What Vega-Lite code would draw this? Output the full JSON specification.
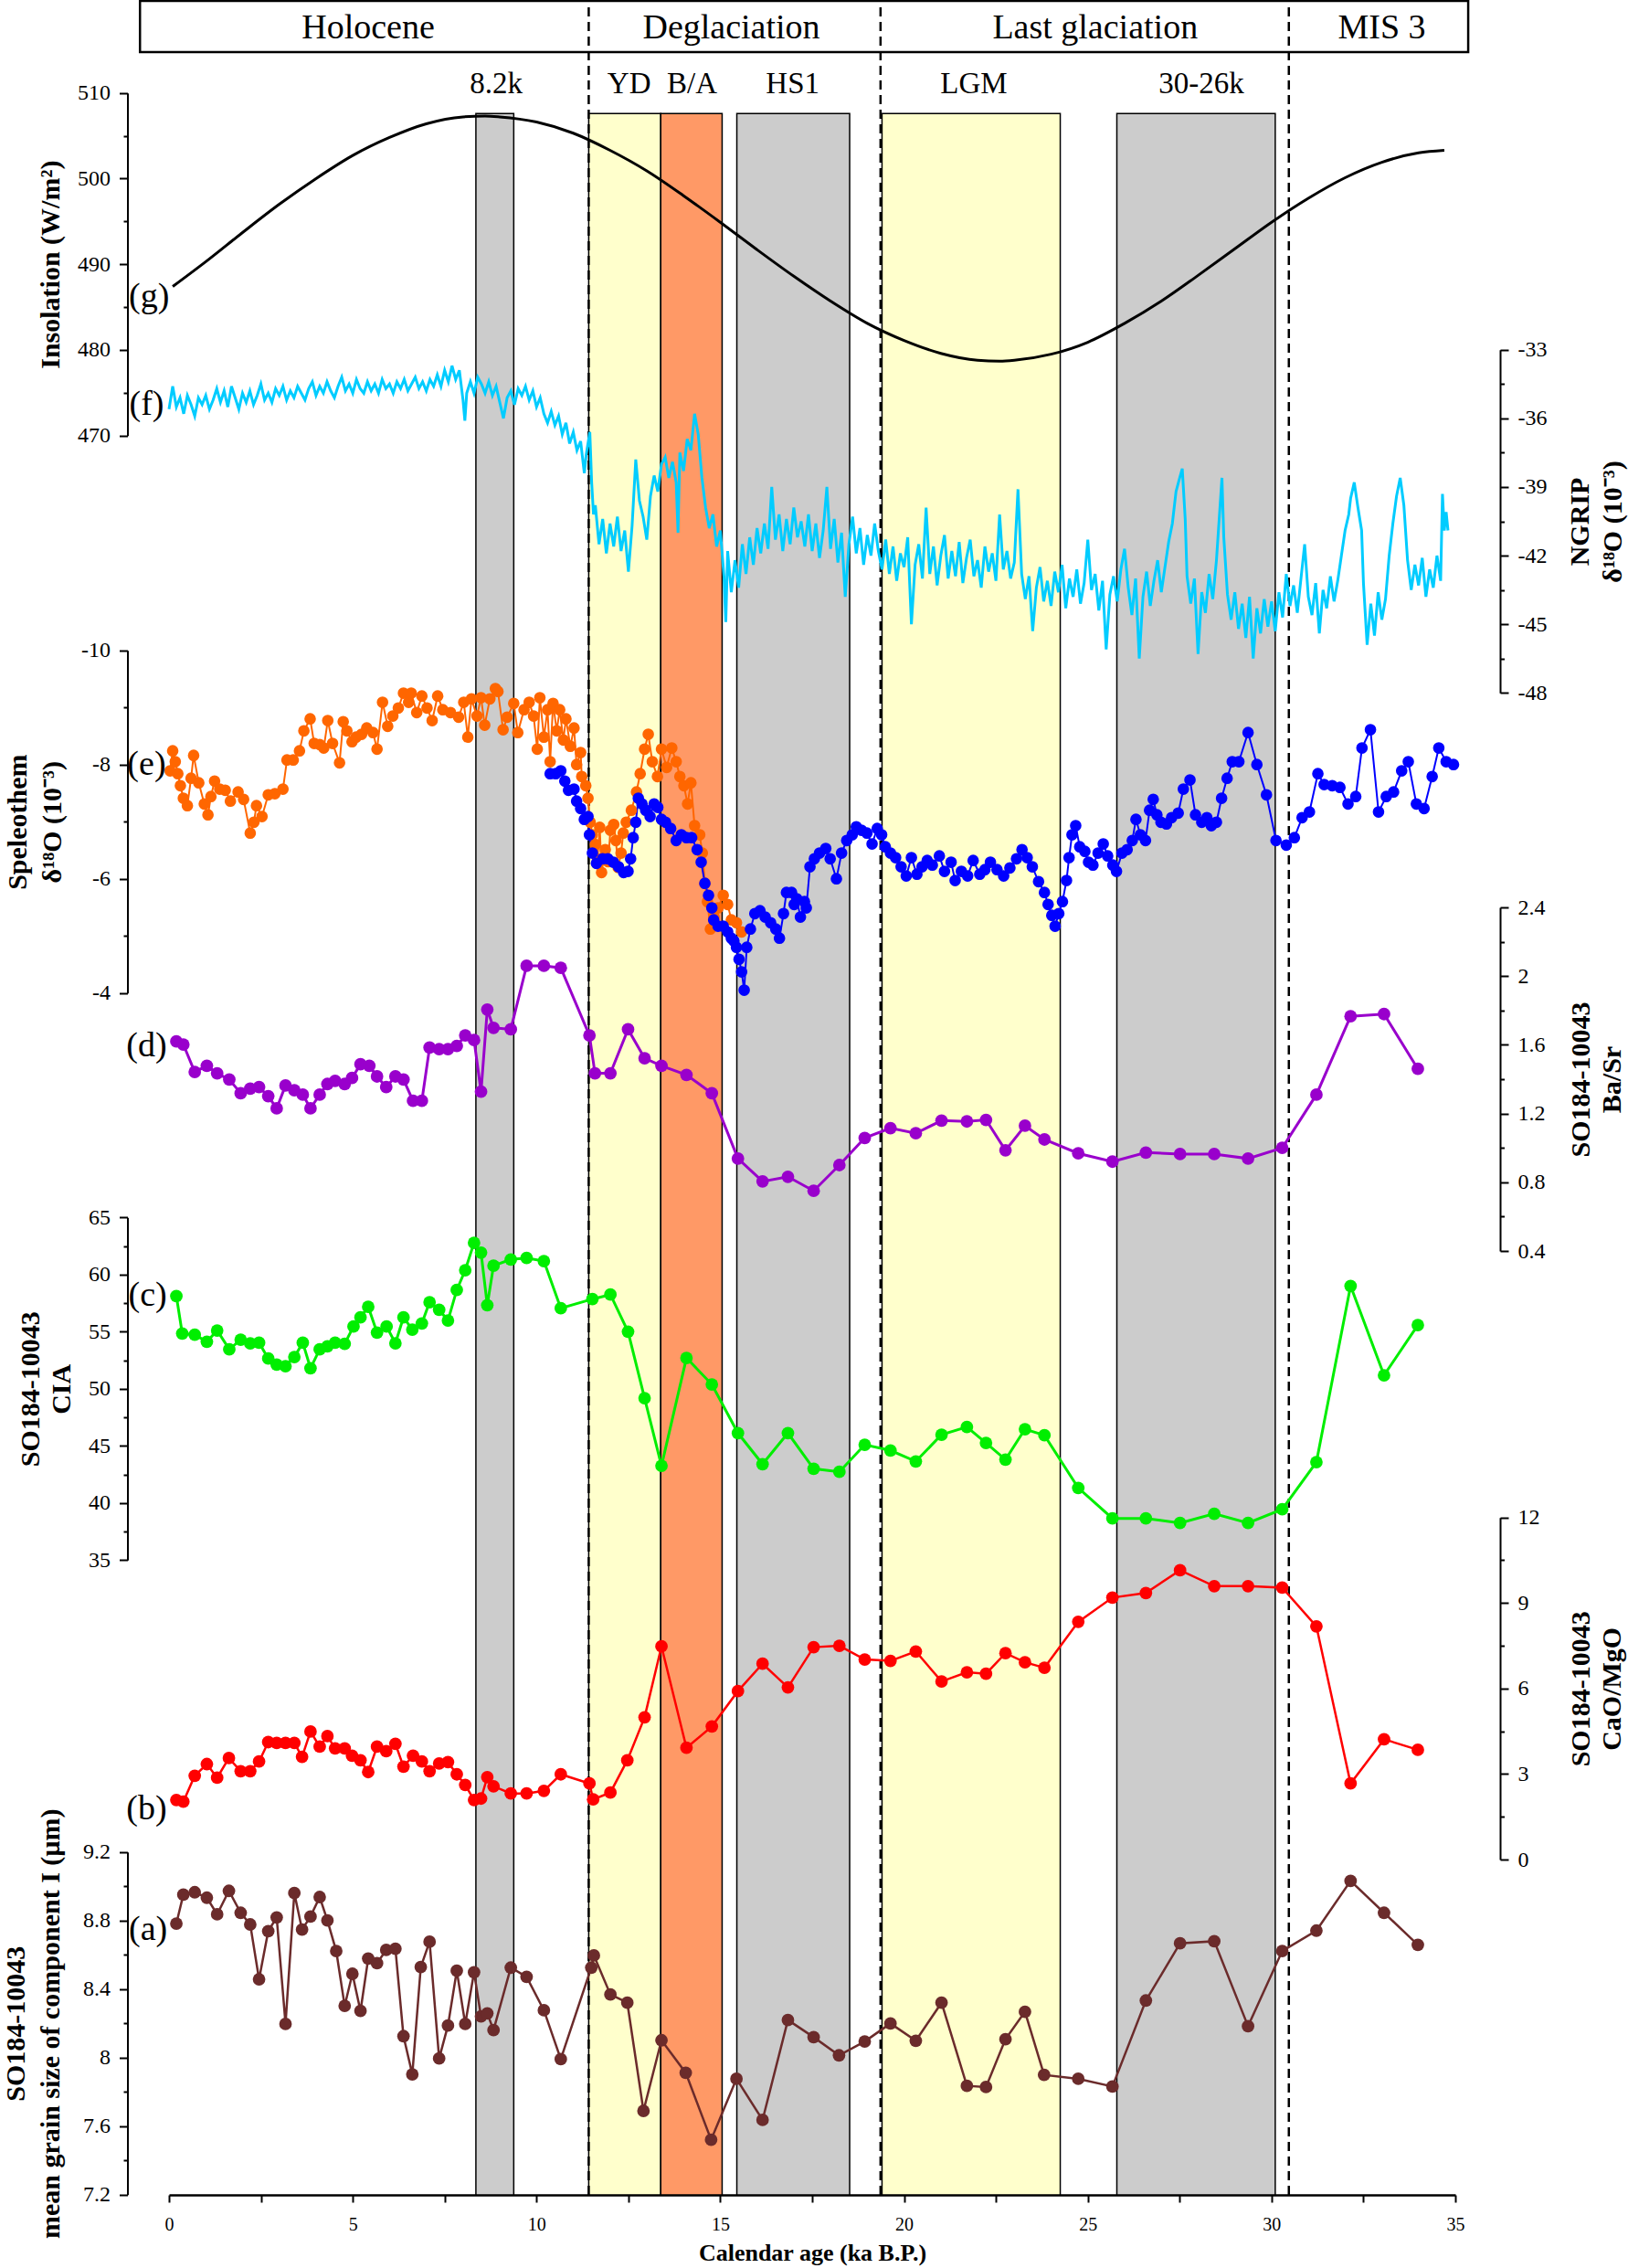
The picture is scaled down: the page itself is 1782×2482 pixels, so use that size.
{
"$schema":"https://vega.github.io/schema/vega-lite/v6.json",
"width":1408,"height":2402,
"autosize":{"type":"none"},
"padding":{"left":185,"top":0,"right":189,"bottom":80},
"background":"white",
"config":{"view":{"stroke":null},"font":"Liberation Serif",
 "axis":{"grid":false,"zindex":1,"domainColor":"black","domainWidth":2,"tickColor":"black","tickWidth":2,"labelColor":"black","labelFont":"Liberation Serif","labelFontSize":24,"titleFont":"Liberation Serif","titleFontSize":30,"titleFontWeight":"bold","titleColor":"black","labelOverlap":false,"labelFlush":false}},
"encoding":{"x":{"field":"t","type":"quantitative","scale":{"domain":[0,35],"nice":false,"zero":false},
 "axis":{"orient":"bottom","values":[0,2.5,5,7.5,10,12.5,15,17.5,20,22.5,25,27.5,30,32.5,35],"tickSize":8,"domainWidth":2.5,"labelExpr":"datum.value % 5 === 0 ? datum.label : ''","labelFontSize":20,"labelPadding":14,"title":"Calendar age (ka B.P.)","titleFontSize":26,"titlePadding":8}}},
"layer":[
{"layer":[
 {"data":{"values":[{"name":"8.2k","t":8.35,"t2":9.38,"kind":"cold"},{"name":"YD","t":11.42,"t2":13.38,"kind":"cool"},{"name":"B/A","t":13.38,"t2":15.05,"kind":"warm"},{"name":"HS1","t":15.45,"t2":18.52,"kind":"cold"},{"name":"LGM","t":19.4,"t2":24.25,"kind":"cool"},{"name":"30-26k","t":25.79,"t2":30.1,"kind":"cold"}]},
  "mark":{"type":"rect","stroke":"black","strokeWidth":1.5},
  "encoding":{"x2":{"field":"t2"},"y":{"datum":0,"type":"quantitative","scale":{"domain":[0,1],"nice":false,"zero":false},"axis":null},"y2":{"datum":0.9483},
   "fill":{"field":"kind","type":"nominal","scale":{"domain":["cold","cool","warm"],"range":["#CCCCCC","#FFFFCC","#FF9966"]},"legend":null}}},
 {"data":{"values":[{"t":11.42},{"t":19.36},{"t":30.47}]},
  "mark":{"type":"rule","color":"black","strokeWidth":2.5,"strokeDash":[10,6]},
  "encoding":{"y":{"datum":0,"type":"quantitative","scale":{"domain":[0,1],"nice":false,"zero":false},"axis":null},"y2":{"datum":0.9996}}},
 {"data":{"values":[{"t":-0.79,"t2":35.35}]},
  "mark":{"type":"rect","fillOpacity":0,"stroke":"black","strokeWidth":2.5},
  "encoding":{"x2":{"field":"t2"},"y":{"datum":0.9763,"type":"quantitative","scale":{"domain":[0,1],"nice":false,"zero":false},"axis":null},"y2":{"datum":0.9996}}},
 {"data":{"values":[{"label":"Holocene","t":5.42},{"label":"Deglaciation","t":15.3},{"label":"Last glaciation","t":25.2},{"label":"MIS 3","t":33.0}]},
  "mark":{"type":"text","fontSize":38,"align":"center","baseline":"alphabetic","color":"black"},
  "encoding":{"y":{"datum":0.9824,"type":"quantitative","scale":{"domain":[0,1],"nice":false,"zero":false},"axis":null},"text":{"field":"label"}}},
 {"data":{"values":[{"label":"8.2k","t":8.9},{"label":"YD","t":12.52},{"label":"B/A","t":14.23},{"label":"HS1","t":16.97},{"label":"LGM","t":21.9},{"label":"30-26k","t":28.09}]},
  "mark":{"type":"text","fontSize":33,"align":"center","baseline":"alphabetic","color":"black"},
  "encoding":{"y":{"datum":0.9577,"type":"quantitative","scale":{"domain":[0,1],"nice":false,"zero":false},"axis":null},"text":{"field":"label"}}}
]},
{"layer":[
 {"data":{"values":[{"t":0.1,"v":487.4},{"t":1,"v":490.3},{"t":2,"v":493.7},{"t":3,"v":497.0},{"t":4,"v":500.0},{"t":5,"v":502.7},{"t":6,"v":504.8},{"t":7,"v":506.4},{"t":8,"v":507.2},{"t":8.6,"v":507.3},{"t":9,"v":507.2},{"t":10,"v":506.6},{"t":11,"v":505.3},{"t":12,"v":503.3},{"t":13,"v":500.9},{"t":14,"v":498.0},{"t":15,"v":494.9},{"t":16,"v":491.7},{"t":17,"v":488.6},{"t":18,"v":485.7},{"t":19,"v":483.1},{"t":20,"v":481.1},{"t":21,"v":479.6},{"t":22,"v":478.8},{"t":22.6,"v":478.7},{"t":23,"v":478.8},{"t":24,"v":479.5},{"t":25,"v":480.9},{"t":26,"v":483.1},{"t":27,"v":485.7},{"t":28,"v":488.7},{"t":29,"v":491.8},{"t":30,"v":494.9},{"t":31,"v":497.7},{"t":32,"v":500.1},{"t":33,"v":501.9},{"t":34,"v":503.0},{"t":34.7,"v":503.3}]},
  "mark":{"type":"line","color":"black","strokeWidth":3,"interpolate":"monotone"},
  "encoding":{"y":{"field":"v","type":"quantitative","scale":{"domain":[470,510],"range":[476.7,101.7],"nice":false,"zero":false},
   "axis":{"orient":"left","offset":45.5,"values":[470,480,490,500,510],"tickSize":9,"labelExpr":"'' + datum.value","labelPadding":10,"title":"Insolation (W/m²)","titlePadding":14}}}},
 {"data":{"values":[{"t":-0.54,"v":486.2,"lab":"(g)"}]},
  "mark":{"type":"text","fontSize":38,"align":"center","baseline":"middle","color":"black"},
  "encoding":{"y":{"field":"v","type":"quantitative","scale":{"domain":[470,510],"range":[476.7,101.7],"nice":false,"zero":false},
   "axis":{"orient":"left","offset":45.5,"values":[475,485,495,505],"tickSize":4.5,"domain":false,"labels":false,"title":null}},"text":{"field":"lab"}}}
],"resolve":{"axis":{"y":"independent"}}},
{"layer":[
 {"data":{"values":[
{"t":0.0,"v":-35.6},{"t":0.1,"v":-34.6},{"t":0.2,"v":-35.5},{"t":0.3,"v":-35.1},{"t":0.4,"v":-35.8},{"t":0.5,"v":-35.0},{"t":0.6,"v":-35.4},{"t":0.7,"v":-35.9},{"t":0.8,"v":-35.1},{"t":0.9,"v":-35.4},
{"t":1.0,"v":-35.0},{"t":1.1,"v":-35.6},{"t":1.2,"v":-35.2},{"t":1.3,"v":-34.7},{"t":1.4,"v":-35.3},{"t":1.5,"v":-34.8},{"t":1.6,"v":-35.5},{"t":1.7,"v":-34.6},{"t":1.8,"v":-35.1},{"t":1.9,"v":-35.6},
{"t":2.0,"v":-34.9},{"t":2.1,"v":-35.3},{"t":2.2,"v":-34.8},{"t":2.3,"v":-35.4},{"t":2.4,"v":-35.0},{"t":2.5,"v":-34.5},{"t":2.6,"v":-35.2},{"t":2.7,"v":-34.9},{"t":2.8,"v":-35.3},{"t":2.9,"v":-34.7},
{"t":3.0,"v":-35.0},{"t":3.1,"v":-34.6},{"t":3.2,"v":-35.2},{"t":3.3,"v":-34.8},{"t":3.4,"v":-35.1},{"t":3.5,"v":-34.6},{"t":3.6,"v":-34.9},{"t":3.7,"v":-35.2},{"t":3.8,"v":-34.7},{"t":3.9,"v":-34.4},
{"t":4.0,"v":-35.0},{"t":4.1,"v":-34.6},{"t":4.2,"v":-34.9},{"t":4.3,"v":-34.4},{"t":4.4,"v":-34.8},{"t":4.5,"v":-35.1},{"t":4.6,"v":-34.6},{"t":4.7,"v":-34.2},{"t":4.8,"v":-34.8},{"t":4.9,"v":-34.5},
{"t":5.0,"v":-34.9},{"t":5.1,"v":-34.3},{"t":5.2,"v":-34.7},{"t":5.3,"v":-34.9},{"t":5.4,"v":-34.4},{"t":5.5,"v":-34.8},{"t":5.6,"v":-34.5},{"t":5.7,"v":-34.9},{"t":5.8,"v":-34.3},{"t":5.9,"v":-34.7},
{"t":6.0,"v":-34.5},{"t":6.1,"v":-34.9},{"t":6.2,"v":-34.4},{"t":6.3,"v":-34.7},{"t":6.4,"v":-34.3},{"t":6.5,"v":-34.8},{"t":6.6,"v":-34.5},{"t":6.7,"v":-34.2},{"t":6.8,"v":-34.7},{"t":6.9,"v":-34.4},
{"t":7.0,"v":-34.8},{"t":7.1,"v":-34.3},{"t":7.2,"v":-34.6},{"t":7.3,"v":-34.1},{"t":7.4,"v":-34.6},{"t":7.5,"v":-33.9},{"t":7.6,"v":-34.4},{"t":7.7,"v":-33.7},{"t":7.8,"v":-34.3},{"t":7.9,"v":-33.9},
{"t":8.0,"v":-35.2},{"t":8.05,"v":-36.1},{"t":8.1,"v":-34.9},{"t":8.2,"v":-34.4},{"t":8.3,"v":-34.9},{"t":8.4,"v":-34.2},{"t":8.5,"v":-34.5},{"t":8.6,"v":-34.9},{"t":8.7,"v":-34.4},{"t":8.8,"v":-35.0},{"t":8.9,"v":-34.6},
{"t":9.0,"v":-35.3},{"t":9.1,"v":-36.0},{"t":9.2,"v":-35.1},{"t":9.3,"v":-34.8},{"t":9.4,"v":-35.4},{"t":9.5,"v":-34.7},{"t":9.6,"v":-35.0},{"t":9.7,"v":-34.6},{"t":9.8,"v":-35.2},{"t":9.9,"v":-34.8},
{"t":10.0,"v":-35.5},{"t":10.1,"v":-35.1},{"t":10.2,"v":-35.8},{"t":10.3,"v":-36.2},{"t":10.4,"v":-35.7},{"t":10.5,"v":-36.3},{"t":10.6,"v":-35.9},{"t":10.7,"v":-36.7},{"t":10.8,"v":-36.2},{"t":10.9,"v":-37.1},
{"t":11.0,"v":-36.6},{"t":11.1,"v":-37.4},{"t":11.2,"v":-37.0},{"t":11.3,"v":-38.4},{"t":11.35,"v":-37.6},{"t":11.45,"v":-36.6},{"t":11.5,"v":-38.8},{"t":11.55,"v":-40.2},{"t":11.6,"v":-39.8},{"t":11.7,"v":-41.5},{"t":11.8,"v":-40.4},{"t":11.9,"v":-41.9},
{"t":12.0,"v":-40.6},{"t":12.1,"v":-41.6},{"t":12.2,"v":-40.3},{"t":12.3,"v":-41.8},{"t":12.4,"v":-40.9},{"t":12.5,"v":-42.7},{"t":12.6,"v":-40.7},{"t":12.7,"v":-37.8},{"t":12.8,"v":-39.6},{"t":12.9,"v":-40.3},
{"t":13.0,"v":-41.3},{"t":13.1,"v":-39.4},{"t":13.2,"v":-38.5},{"t":13.3,"v":-39.2},{"t":13.4,"v":-38.0},{"t":13.5,"v":-37.7},{"t":13.6,"v":-38.6},{"t":13.7,"v":-37.9},{"t":13.8,"v":-38.8},{"t":13.85,"v":-41.0},{"t":13.9,"v":-37.5},
{"t":14.0,"v":-38.3},{"t":14.1,"v":-36.9},{"t":14.2,"v":-37.4},{"t":14.3,"v":-35.8},{"t":14.4,"v":-36.7},{"t":14.5,"v":-38.6},{"t":14.6,"v":-39.9},{"t":14.7,"v":-40.8},{"t":14.8,"v":-40.2},{"t":14.9,"v":-41.6},
{"t":15.0,"v":-40.9},{"t":15.1,"v":-42.9},{"t":15.15,"v":-44.9},{"t":15.2,"v":-41.8},{"t":15.3,"v":-43.6},{"t":15.4,"v":-42.2},{"t":15.5,"v":-43.4},{"t":15.6,"v":-41.5},{"t":15.7,"v":-42.8},{"t":15.8,"v":-41.2},{"t":15.9,"v":-42.4},
{"t":16.0,"v":-40.8},{"t":16.1,"v":-41.9},{"t":16.2,"v":-40.6},{"t":16.3,"v":-41.7},{"t":16.4,"v":-39.0},{"t":16.5,"v":-41.3},{"t":16.6,"v":-40.2},{"t":16.7,"v":-41.8},{"t":16.8,"v":-40.4},{"t":16.9,"v":-41.5},
{"t":17.0,"v":-39.9},{"t":17.1,"v":-41.2},{"t":17.2,"v":-40.5},{"t":17.3,"v":-41.6},{"t":17.4,"v":-40.2},{"t":17.5,"v":-41.8},{"t":17.6,"v":-40.6},{"t":17.7,"v":-42.1},{"t":17.8,"v":-40.9},{"t":17.9,"v":-39.0},
{"t":18.0,"v":-41.7},{"t":18.1,"v":-40.4},{"t":18.2,"v":-42.3},{"t":18.3,"v":-41.0},{"t":18.4,"v":-43.8},{"t":18.5,"v":-41.5},{"t":18.6,"v":-40.3},{"t":18.7,"v":-41.9},{"t":18.8,"v":-40.8},{"t":18.9,"v":-42.4},
{"t":19.0,"v":-41.1},{"t":19.1,"v":-42.0},{"t":19.2,"v":-40.6},{"t":19.3,"v":-41.8},{"t":19.4,"v":-42.6},{"t":19.5,"v":-41.3},{"t":19.6,"v":-42.8},{"t":19.7,"v":-41.6},{"t":19.8,"v":-43.1},{"t":19.9,"v":-41.9},
{"t":20.0,"v":-42.5},{"t":20.1,"v":-41.2},{"t":20.2,"v":-45.0},{"t":20.3,"v":-42.4},{"t":20.4,"v":-41.5},{"t":20.5,"v":-43.0},{"t":20.6,"v":-39.9},{"t":20.7,"v":-42.8},{"t":20.8,"v":-41.6},{"t":20.9,"v":-43.3},
{"t":21.0,"v":-42.0},{"t":21.1,"v":-41.1},{"t":21.2,"v":-43.0},{"t":21.3,"v":-41.8},{"t":21.4,"v":-42.9},{"t":21.5,"v":-41.4},{"t":21.6,"v":-43.2},{"t":21.7,"v":-42.1},{"t":21.8,"v":-41.3},{"t":21.9,"v":-42.9},
{"t":22.0,"v":-42.2},{"t":22.1,"v":-43.4},{"t":22.2,"v":-41.6},{"t":22.3,"v":-42.7},{"t":22.4,"v":-41.9},{"t":22.5,"v":-43.1},{"t":22.6,"v":-40.2},{"t":22.7,"v":-42.6},{"t":22.8,"v":-41.8},{"t":22.9,"v":-43.0},
{"t":23.0,"v":-42.3},{"t":23.1,"v":-39.1},{"t":23.2,"v":-42.8},{"t":23.3,"v":-43.9},{"t":23.4,"v":-42.9},{"t":23.5,"v":-45.3},{"t":23.6,"v":-43.4},{"t":23.7,"v":-42.5},{"t":23.8,"v":-44.0},{"t":23.9,"v":-43.1},
{"t":24.0,"v":-44.2},{"t":24.1,"v":-42.7},{"t":24.2,"v":-43.6},{"t":24.3,"v":-42.4},{"t":24.4,"v":-44.3},{"t":24.5,"v":-43.0},{"t":24.6,"v":-43.8},{"t":24.7,"v":-42.6},{"t":24.8,"v":-44.1},{"t":24.9,"v":-43.2},
{"t":25.0,"v":-41.3},{"t":25.1,"v":-43.5},{"t":25.2,"v":-42.8},{"t":25.3,"v":-44.4},{"t":25.4,"v":-43.1},{"t":25.5,"v":-46.1},{"t":25.6,"v":-43.7},{"t":25.7,"v":-42.9},{"t":25.8,"v":-44.0},{"t":25.9,"v":-42.6},
{"t":26.0,"v":-41.7},{"t":26.1,"v":-43.4},{"t":26.2,"v":-44.6},{"t":26.3,"v":-43.0},{"t":26.4,"v":-46.5},{"t":26.5,"v":-43.8},{"t":26.6,"v":-42.7},{"t":26.7,"v":-44.2},{"t":26.8,"v":-43.1},{"t":26.9,"v":-42.2},
{"t":27.0,"v":-43.6},{"t":27.1,"v":-42.5},{"t":27.2,"v":-41.4},{"t":27.3,"v":-40.6},{"t":27.4,"v":-39.2},{"t":27.5,"v":-38.6},{"t":27.57,"v":-38.2},{"t":27.65,"v":-40.4},{"t":27.7,"v":-42.9},{"t":27.8,"v":-44.1},{"t":27.9,"v":-43.0},
{"t":28.0,"v":-46.3},{"t":28.1,"v":-43.6},{"t":28.2,"v":-44.5},{"t":28.3,"v":-42.8},{"t":28.4,"v":-43.9},{"t":28.5,"v":-42.2},{"t":28.6,"v":-39.8},{"t":28.65,"v":-38.6},{"t":28.7,"v":-41.2},{"t":28.8,"v":-43.7},{"t":28.9,"v":-44.8},
{"t":29.0,"v":-43.6},{"t":29.1,"v":-45.2},{"t":29.2,"v":-44.1},{"t":29.3,"v":-45.6},{"t":29.4,"v":-43.8},{"t":29.5,"v":-46.5},{"t":29.6,"v":-44.3},{"t":29.7,"v":-45.4},{"t":29.8,"v":-43.9},{"t":29.9,"v":-45.1},
{"t":30.0,"v":-44.0},{"t":30.1,"v":-45.3},{"t":30.2,"v":-43.6},{"t":30.3,"v":-44.7},{"t":30.4,"v":-42.8},{"t":30.5,"v":-44.2},{"t":30.6,"v":-43.3},{"t":30.7,"v":-44.5},{"t":30.8,"v":-43.0},{"t":30.9,"v":-41.5},
{"t":31.0,"v":-43.8},{"t":31.1,"v":-44.6},{"t":31.2,"v":-43.2},{"t":31.3,"v":-45.4},{"t":31.4,"v":-43.5},{"t":31.5,"v":-44.3},{"t":31.6,"v":-42.9},{"t":31.7,"v":-44.0},{"t":31.8,"v":-43.1},{"t":31.9,"v":-42.0},
{"t":32.0,"v":-40.9},{"t":32.1,"v":-40.2},{"t":32.15,"v":-39.5},{"t":32.25,"v":-38.8},{"t":32.35,"v":-39.9},{"t":32.45,"v":-40.9},{"t":32.5,"v":-43.2},{"t":32.6,"v":-45.9},{"t":32.7,"v":-44.1},{"t":32.8,"v":-45.5},{"t":32.9,"v":-43.6},
{"t":33.0,"v":-44.8},{"t":33.1,"v":-43.9},{"t":33.2,"v":-42.0},{"t":33.3,"v":-40.6},{"t":33.4,"v":-39.4},{"t":33.5,"v":-38.6},{"t":33.6,"v":-39.8},{"t":33.7,"v":-42.2},{"t":33.8,"v":-43.5},{"t":33.9,"v":-42.4},
{"t":34.0,"v":-43.3},{"t":34.1,"v":-42.1},{"t":34.2,"v":-43.8},{"t":34.3,"v":-42.6},{"t":34.4,"v":-43.4},{"t":34.5,"v":-42.0},{"t":34.6,"v":-43.1},{"t":34.65,"v":-39.3},{"t":34.7,"v":-40.9},{"t":34.75,"v":-40.1},{"t":34.8,"v":-40.9}]},
  "mark":{"type":"line","color":"#00CCFF","strokeWidth":3},
  "encoding":{"y":{"field":"v","type":"quantitative","scale":{"domain":[-48,-33],"range":[758.3,382.7],"nice":false,"zero":false},
   "axis":{"orient":"right","offset":49,"values":[-48,-45,-42,-39,-36,-33],"tickSize":9,"labelExpr":"'' + datum.value","labelPadding":10,"title":["NGRIP","δ¹⁸O (10⁻³)"],"titleAngle":-90,"titleBaseline":"top","titlePadding":-14,"titleLineHeight":36}}}},
 {"data":{"values":[{"t":-0.61,"v":-35.42,"lab":"(f)"}]},
  "mark":{"type":"text","fontSize":38,"align":"center","baseline":"middle","color":"black"},
  "encoding":{"y":{"field":"v","type":"quantitative","scale":{"domain":[-48,-33],"range":[758.3,382.7],"nice":false,"zero":false},
   "axis":{"orient":"right","offset":49,"values":[-46.5,-43.5,-40.5,-37.5,-34.5],"tickSize":4.5,"domain":false,"labels":false,"title":null}},"text":{"field":"lab"}}}
],"resolve":{"axis":{"y":"independent"}}},
{"layer":[
 {"data":{"values":[
{"t":0.03,"v":-7.89,"s":"s1"},{"t":0.1,"v":-8.24,"s":"s1"},{"t":0.17,"v":-8.05,"s":"s1"},{"t":0.24,"v":-7.84,"s":"s1"},{"t":0.31,"v":-7.63,"s":"s1"},{"t":0.39,"v":-7.41,"s":"s1"},{"t":0.5,"v":-7.28,"s":"s1"},{"t":0.6,"v":-7.76,"s":"s1"},{"t":0.67,"v":-8.16,"s":"s1"},{"t":0.81,"v":-7.68,"s":"s1"},{"t":0.96,"v":-7.31,"s":"s1"},{"t":1.06,"v":-7.12,"s":"s1"},{"t":1.14,"v":-7.44,"s":"s1"},{"t":1.24,"v":-7.71,"s":"s1"},{"t":1.38,"v":-7.57,"s":"s1"},{"t":1.53,"v":-7.55,"s":"s1"},{"t":1.67,"v":-7.36,"s":"s1"},{"t":1.88,"v":-7.52,"s":"s1"},{"t":2.03,"v":-7.39,"s":"s1"},{"t":2.21,"v":-6.8,"s":"s1"},{"t":2.31,"v":-6.99,"s":"s1"},{"t":2.38,"v":-7.28,"s":"s1"},{"t":2.53,"v":-7.09,"s":"s1"},{"t":2.7,"v":-7.47,"s":"s1"},{"t":2.88,"v":-7.49,"s":"s1"},{"t":3.1,"v":-7.57,"s":"s1"},{"t":3.21,"v":-8.08,"s":"s1"},{"t":3.38,"v":-8.08,"s":"s1"},{"t":3.55,"v":-8.24,"s":"s1"},{"t":3.67,"v":-8.59,"s":"s1"},{"t":3.84,"v":-8.8,"s":"s1"},{"t":3.95,"v":-8.37,"s":"s1"},{"t":4.1,"v":-8.35,"s":"s1"},{"t":4.21,"v":-8.29,"s":"s1"},{"t":4.32,"v":-8.77,"s":"s1"},{"t":4.45,"v":-8.37,"s":"s1"},{"t":4.64,"v":-8.03,"s":"s1"},{"t":4.74,"v":-8.75,"s":"s1"},{"t":4.84,"v":-8.59,"s":"s1"},{"t":4.98,"v":-8.4,"s":"s1"},{"t":5.09,"v":-8.48,"s":"s1"},{"t":5.24,"v":-8.53,"s":"s1"},{"t":5.38,"v":-8.64,"s":"s1"},{"t":5.55,"v":-8.56,"s":"s1"},{"t":5.66,"v":-8.27,"s":"s1"},{"t":5.81,"v":-9.09,"s":"s1"},{"t":5.95,"v":-8.67,"s":"s1"},{"t":6.09,"v":-8.85,"s":"s1"},{"t":6.24,"v":-8.99,"s":"s1"},{"t":6.38,"v":-9.25,"s":"s1"},{"t":6.52,"v":-9.09,"s":"s1"},{"t":6.59,"v":-9.25,"s":"s1"},{"t":6.74,"v":-8.91,"s":"s1"},{"t":6.88,"v":-9.2,"s":"s1"},{"t":7.02,"v":-8.99,"s":"s1"},{"t":7.16,"v":-8.77,"s":"s1"},{"t":7.31,"v":-9.2,"s":"s1"},{"t":7.45,"v":-8.96,"s":"s1"},{"t":7.66,"v":-8.91,"s":"s1"},{"t":7.88,"v":-8.83,"s":"s1"},{"t":8.02,"v":-9.09,"s":"s1"},{"t":8.13,"v":-8.48,"s":"s1"},{"t":8.23,"v":-9.15,"s":"s1"},{"t":8.38,"v":-8.85,"s":"s1"},{"t":8.49,"v":-9.17,"s":"s1"},{"t":8.59,"v":-8.69,"s":"s1"},{"t":8.73,"v":-9.15,"s":"s1"},{"t":8.88,"v":-9.33,"s":"s1"},{"t":8.95,"v":-9.28,"s":"s1"},{"t":9.09,"v":-8.61,"s":"s1"},{"t":9.2,"v":-8.83,"s":"s1"},{"t":9.38,"v":-9.07,"s":"s1"},{"t":9.49,"v":-8.56,"s":"s1"},{"t":9.66,"v":-8.96,"s":"s1"},{"t":9.8,"v":-9.09,"s":"s1"},{"t":9.92,"v":-8.85,"s":"s1"},{"t":10.02,"v":-8.27,"s":"s1"},{"t":10.09,"v":-9.17,"s":"s1"},{"t":10.2,"v":-8.48,"s":"s1"},{"t":10.3,"v":-8.96,"s":"s1"},{"t":10.37,"v":-8.05,"s":"s1"},{"t":10.45,"v":-9.07,"s":"s1"},{"t":10.55,"v":-8.59,"s":"s1"},{"t":10.63,"v":-8.96,"s":"s1"},{"t":10.73,"v":-8.43,"s":"s1"},{"t":10.8,"v":-8.8,"s":"s1"},{"t":10.92,"v":-8.32,"s":"s1"},{"t":11.02,"v":-8.64,"s":"s1"},{"t":11.09,"v":-8.0,"s":"s1"},{"t":11.2,"v":-8.21,"s":"s1"},{"t":11.23,"v":-7.79,"s":"s1"},{"t":11.34,"v":-7.63,"s":"s1"},{"t":11.4,"v":-7.41,"s":"s1"},{"t":11.46,"v":-6.99,"s":"s1"},{"t":11.52,"v":-6.77,"s":"s1"},{"t":11.6,"v":-6.6,"s":"s1"},{"t":11.66,"v":-6.35,"s":"s1"},{"t":11.72,"v":-6.9,"s":"s1"},{"t":11.77,"v":-6.11,"s":"s1"},{"t":11.87,"v":-6.51,"s":"s1"},{"t":11.95,"v":-6.3,"s":"s1"},{"t":12.01,"v":-6.85,"s":"s1"},{"t":12.1,"v":-6.95,"s":"s1"},{"t":12.16,"v":-6.67,"s":"s1"},{"t":12.22,"v":-6.2,"s":"s1"},{"t":12.3,"v":-6.45,"s":"s1"},{"t":12.36,"v":-6.8,"s":"s1"},{"t":12.44,"v":-6.99,"s":"s1"},{"t":12.58,"v":-7.2,"s":"s1"},{"t":12.72,"v":-7.52,"s":"s1"},{"t":12.82,"v":-7.84,"s":"s1"},{"t":12.94,"v":-8.27,"s":"s1"},{"t":13.04,"v":-8.53,"s":"s1"},{"t":13.15,"v":-8.05,"s":"s1"},{"t":13.29,"v":-7.79,"s":"s1"},{"t":13.4,"v":-8.27,"s":"s1"},{"t":13.54,"v":-7.95,"s":"s1"},{"t":13.68,"v":-8.29,"s":"s1"},{"t":13.8,"v":-8.05,"s":"s1"},{"t":13.9,"v":-7.79,"s":"s1"},{"t":14.01,"v":-7.63,"s":"s1"},{"t":14.11,"v":-7.31,"s":"s1"},{"t":14.2,"v":-7.68,"s":"s1"},{"t":14.3,"v":-6.93,"s":"s1"},{"t":14.44,"v":-6.77,"s":"s1"},{"t":14.51,"v":-6.45,"s":"s1"},{"t":14.58,"v":-5.92,"s":"s1"},{"t":14.65,"v":-5.6,"s":"s1"},{"t":14.73,"v":-5.12,"s":"s1"},{"t":14.83,"v":-5.33,"s":"s1"},{"t":14.94,"v":-5.49,"s":"s1"},{"t":15.08,"v":-5.71,"s":"s1"},{"t":15.2,"v":-5.55,"s":"s1"},{"t":15.3,"v":-5.28,"s":"s1"},{"t":15.44,"v":-5.23,"s":"s1"},{"t":15.58,"v":-5.07,"s":"s1"},
{"t":10.37,"v":-7.84,"s":"s2"},{"t":10.52,"v":-7.84,"s":"s2"},{"t":10.66,"v":-7.89,"s":"s2"},{"t":10.77,"v":-7.71,"s":"s2"},{"t":10.87,"v":-7.55,"s":"s2"},{"t":11.02,"v":-7.57,"s":"s2"},{"t":11.09,"v":-7.36,"s":"s2"},{"t":11.2,"v":-7.23,"s":"s2"},{"t":11.3,"v":-7.04,"s":"s2"},{"t":11.4,"v":-7.09,"s":"s2"},{"t":11.44,"v":-6.77,"s":"s2"},{"t":11.52,"v":-6.45,"s":"s2"},{"t":11.63,"v":-6.27,"s":"s2"},{"t":11.8,"v":-6.35,"s":"s2"},{"t":11.94,"v":-6.35,"s":"s2"},{"t":12.09,"v":-6.29,"s":"s2"},{"t":12.23,"v":-6.21,"s":"s2"},{"t":12.37,"v":-6.11,"s":"s2"},{"t":12.49,"v":-6.13,"s":"s2"},{"t":12.56,"v":-6.35,"s":"s2"},{"t":12.63,"v":-6.72,"s":"s2"},{"t":12.7,"v":-6.99,"s":"s2"},{"t":12.77,"v":-7.41,"s":"s2"},{"t":12.87,"v":-7.31,"s":"s2"},{"t":12.97,"v":-7.2,"s":"s2"},{"t":13.09,"v":-7.09,"s":"s2"},{"t":13.2,"v":-7.31,"s":"s2"},{"t":13.3,"v":-7.25,"s":"s2"},{"t":13.4,"v":-7.04,"s":"s2"},{"t":13.51,"v":-6.99,"s":"s2"},{"t":13.65,"v":-6.88,"s":"s2"},{"t":13.8,"v":-6.67,"s":"s2"},{"t":13.94,"v":-6.77,"s":"s2"},{"t":14.08,"v":-6.72,"s":"s2"},{"t":14.22,"v":-6.72,"s":"s2"},{"t":14.37,"v":-6.51,"s":"s2"},{"t":14.48,"v":-6.29,"s":"s2"},{"t":14.58,"v":-5.92,"s":"s2"},{"t":14.68,"v":-5.71,"s":"s2"},{"t":14.77,"v":-5.49,"s":"s2"},{"t":14.82,"v":-5.28,"s":"s2"},{"t":14.94,"v":-5.17,"s":"s2"},{"t":15.08,"v":-5.17,"s":"s2"},{"t":15.2,"v":-5.07,"s":"s2"},{"t":15.3,"v":-4.96,"s":"s2"},{"t":15.37,"v":-4.91,"s":"s2"},{"t":15.44,"v":-4.8,"s":"s2"},{"t":15.51,"v":-4.59,"s":"s2"},{"t":15.58,"v":-4.37,"s":"s2"},{"t":15.65,"v":-4.05,"s":"s2"},{"t":15.72,"v":-4.8,"s":"s2"},{"t":15.82,"v":-5.12,"s":"s2"},{"t":15.94,"v":-5.39,"s":"s2"},{"t":16.08,"v":-5.44,"s":"s2"},{"t":16.22,"v":-5.33,"s":"s2"},{"t":16.37,"v":-5.23,"s":"s2"},{"t":16.51,"v":-5.12,"s":"s2"},{"t":16.61,"v":-4.96,"s":"s2"},{"t":16.72,"v":-5.39,"s":"s2"},{"t":16.8,"v":-5.76,"s":"s2"},{"t":16.94,"v":-5.76,"s":"s2"},{"t":17.01,"v":-5.55,"s":"s2"},{"t":17.08,"v":-5.65,"s":"s2"},{"t":17.18,"v":-5.33,"s":"s2"},{"t":17.29,"v":-5.6,"s":"s2"},{"t":17.34,"v":-5.49,"s":"s2"},{"t":17.44,"v":-6.21,"s":"s2"},{"t":17.56,"v":-6.35,"s":"s2"},{"t":17.7,"v":-6.45,"s":"s2"},{"t":17.87,"v":-6.53,"s":"s2"},{"t":17.99,"v":-6.35,"s":"s2"},{"t":18.16,"v":-6.0,"s":"s2"},{"t":18.3,"v":-6.45,"s":"s2"},{"t":18.44,"v":-6.67,"s":"s2"},{"t":18.59,"v":-6.77,"s":"s2"},{"t":18.7,"v":-6.91,"s":"s2"},{"t":18.84,"v":-6.85,"s":"s2"},{"t":18.99,"v":-6.8,"s":"s2"},{"t":19.13,"v":-6.61,"s":"s2"},{"t":19.27,"v":-6.88,"s":"s2"},{"t":19.39,"v":-6.77,"s":"s2"},{"t":19.49,"v":-6.56,"s":"s2"},{"t":19.63,"v":-6.45,"s":"s2"},{"t":19.77,"v":-6.37,"s":"s2"},{"t":19.92,"v":-6.21,"s":"s2"},{"t":20.06,"v":-6.05,"s":"s2"},{"t":20.2,"v":-6.37,"s":"s2"},{"t":20.35,"v":-6.08,"s":"s2"},{"t":20.49,"v":-6.21,"s":"s2"},{"t":20.63,"v":-6.32,"s":"s2"},{"t":20.77,"v":-6.24,"s":"s2"},{"t":20.96,"v":-6.4,"s":"s2"},{"t":21.1,"v":-6.13,"s":"s2"},{"t":21.28,"v":-6.29,"s":"s2"},{"t":21.39,"v":-5.97,"s":"s2"},{"t":21.56,"v":-6.13,"s":"s2"},{"t":21.73,"v":-6.05,"s":"s2"},{"t":21.88,"v":-6.32,"s":"s2"},{"t":22.06,"v":-6.08,"s":"s2"},{"t":22.2,"v":-6.16,"s":"s2"},{"t":22.35,"v":-6.29,"s":"s2"},{"t":22.53,"v":-6.16,"s":"s2"},{"t":22.71,"v":-6.05,"s":"s2"},{"t":22.88,"v":-6.19,"s":"s2"},{"t":23.06,"v":-6.35,"s":"s2"},{"t":23.21,"v":-6.51,"s":"s2"},{"t":23.35,"v":-6.37,"s":"s2"},{"t":23.49,"v":-6.21,"s":"s2"},{"t":23.66,"v":-5.95,"s":"s2"},{"t":23.82,"v":-5.76,"s":"s2"},{"t":23.92,"v":-5.55,"s":"s2"},{"t":24.02,"v":-5.36,"s":"s2"},{"t":24.11,"v":-5.17,"s":"s2"},{"t":24.21,"v":-5.39,"s":"s2"},{"t":24.31,"v":-5.6,"s":"s2"},{"t":24.42,"v":-5.97,"s":"s2"},{"t":24.49,"v":-6.37,"s":"s2"},{"t":24.57,"v":-6.77,"s":"s2"},{"t":24.67,"v":-6.93,"s":"s2"},{"t":24.78,"v":-6.56,"s":"s2"},{"t":24.92,"v":-6.48,"s":"s2"},{"t":25.02,"v":-6.29,"s":"s2"},{"t":25.14,"v":-6.24,"s":"s2"},{"t":25.28,"v":-6.45,"s":"s2"},{"t":25.42,"v":-6.61,"s":"s2"},{"t":25.54,"v":-6.4,"s":"s2"},{"t":25.68,"v":-6.24,"s":"s2"},{"t":25.78,"v":-6.13,"s":"s2"},{"t":25.93,"v":-6.45,"s":"s2"},{"t":26.07,"v":-6.51,"s":"s2"},{"t":26.21,"v":-6.67,"s":"s2"},{"t":26.31,"v":-7.04,"s":"s2"},{"t":26.43,"v":-6.77,"s":"s2"},{"t":26.57,"v":-6.67,"s":"s2"},{"t":26.68,"v":-7.2,"s":"s2"},{"t":26.78,"v":-7.39,"s":"s2"},{"t":26.88,"v":-7.12,"s":"s2"},{"t":26.99,"v":-6.99,"s":"s2"},{"t":27.14,"v":-6.96,"s":"s2"},{"t":27.28,"v":-7.07,"s":"s2"},{"t":27.46,"v":-7.15,"s":"s2"},{"t":27.6,"v":-7.57,"s":"s2"},{"t":27.78,"v":-7.73,"s":"s2"},{"t":27.93,"v":-7.12,"s":"s2"},{"t":28.1,"v":-6.99,"s":"s2"},{"t":28.24,"v":-7.07,"s":"s2"},{"t":28.36,"v":-6.93,"s":"s2"},{"t":28.5,"v":-6.99,"s":"s2"},{"t":28.64,"v":-7.41,"s":"s2"},{"t":28.79,"v":-7.76,"s":"s2"},{"t":28.93,"v":-8.05,"s":"s2"},{"t":29.11,"v":-8.05,"s":"s2"},{"t":29.36,"v":-8.56,"s":"s2"},{"t":29.6,"v":-8.0,"s":"s2"},{"t":29.86,"v":-7.47,"s":"s2"},{"t":30.12,"v":-6.67,"s":"s2"},{"t":30.4,"v":-6.59,"s":"s2"},{"t":30.62,"v":-6.72,"s":"s2"},{"t":30.83,"v":-7.07,"s":"s2"},{"t":31.03,"v":-7.17,"s":"s2"},{"t":31.26,"v":-7.84,"s":"s2"},{"t":31.43,"v":-7.65,"s":"s2"},{"t":31.65,"v":-7.63,"s":"s2"},{"t":31.86,"v":-7.6,"s":"s2"},{"t":32.08,"v":-7.31,"s":"s2"},{"t":32.29,"v":-7.44,"s":"s2"},{"t":32.46,"v":-8.29,"s":"s2"},{"t":32.69,"v":-8.61,"s":"s2"},{"t":32.91,"v":-7.17,"s":"s2"},{"t":33.12,"v":-7.44,"s":"s2"},{"t":33.32,"v":-7.52,"s":"s2"},{"t":33.54,"v":-7.89,"s":"s2"},{"t":33.72,"v":-8.05,"s":"s2"},{"t":33.94,"v":-7.31,"s":"s2"},{"t":34.15,"v":-7.23,"s":"s2"},{"t":34.37,"v":-7.79,"s":"s2"},{"t":34.55,"v":-8.29,"s":"s2"},{"t":34.75,"v":-8.05,"s":"s2"},{"t":34.95,"v":-8.0,"s":"s2"}]},
  "mark":{"type":"line","strokeWidth":2,"point":{"filled":true,"size":160}},
  "encoding":{"y":{"field":"v","type":"quantitative","scale":{"domain":[-10,-4],"range":[711.7,1086.7],"nice":false,"zero":false},
   "axis":{"orient":"left","offset":45.5,"values":[-10,-8,-6,-4],"tickSize":9,"labelExpr":"'' + datum.value","labelPadding":10,"title":["Speleothem","δ¹⁸O (10⁻³)"],"titlePadding":16,"titleLineHeight":38}},
   "color":{"field":"s","type":"nominal","scale":{"domain":["s1","s2"],"range":["#FF6600","#0000FF"]},"legend":null}}},
 {"data":{"values":[{"t":-0.61,"v":-8.0,"lab":"(e)"}]},
  "mark":{"type":"text","fontSize":38,"align":"center","baseline":"middle","color":"black"},
  "encoding":{"y":{"field":"v","type":"quantitative","scale":{"domain":[-10,-4],"range":[711.7,1086.7],"nice":false,"zero":false},
   "axis":{"orient":"left","offset":45.5,"values":[-9,-7,-5],"tickSize":4.5,"domain":false,"labels":false,"title":null}},"text":{"field":"lab"}}}
],"resolve":{"axis":{"y":"independent"}}},
{"layer":[
 {"data":{"values":[{"t":0.2,"v":1.62},{"t":0.39,"v":1.602},{"t":0.7,"v":1.442},{"t":1.03,"v":1.478},{"t":1.31,"v":1.434},{"t":1.64,"v":1.398},{"t":1.95,"v":1.318},{"t":2.21,"v":1.345},{"t":2.45,"v":1.354},{"t":2.7,"v":1.301},{"t":2.93,"v":1.23},{"t":3.17,"v":1.363},{"t":3.41,"v":1.336},{"t":3.64,"v":1.31},{"t":3.85,"v":1.23},{"t":4.1,"v":1.31},{"t":4.31,"v":1.372},{"t":4.52,"v":1.39},{"t":4.78,"v":1.372},{"t":4.98,"v":1.407},{"t":5.21,"v":1.487},{"t":5.45,"v":1.478},{"t":5.66,"v":1.416},{"t":5.91,"v":1.354},{"t":6.16,"v":1.416},{"t":6.38,"v":1.398},{"t":6.64,"v":1.274},{"t":6.88,"v":1.274},{"t":7.09,"v":1.584},{"t":7.35,"v":1.575},{"t":7.59,"v":1.575},{"t":7.83,"v":1.593},{"t":8.06,"v":1.655},{"t":8.3,"v":1.628},{"t":8.49,"v":1.327},{"t":8.66,"v":1.805},{"t":8.83,"v":1.699},{"t":9.3,"v":1.69},{"t":9.73,"v":2.06},{"t":10.2,"v":2.06},{"t":10.66,"v":2.048},{"t":11.44,"v":1.655},{"t":11.59,"v":1.434},{"t":12.01,"v":1.434},{"t":12.49,"v":1.69},{"t":12.94,"v":1.522},{"t":13.4,"v":1.478},{"t":14.08,"v":1.425},{"t":14.77,"v":1.318},{"t":15.48,"v":0.938},{"t":16.15,"v":0.805},{"t":16.84,"v":0.832},{"t":17.54,"v":0.75},{"t":18.24,"v":0.9},{"t":18.93,"v":1.058},{"t":19.63,"v":1.115},{"t":20.32,"v":1.085},{"t":21.02,"v":1.159},{"t":21.71,"v":1.154},{"t":22.23,"v":1.163},{"t":22.76,"v":0.986},{"t":23.29,"v":1.129},{"t":23.82,"v":1.049},{"t":24.74,"v":0.968},{"t":25.67,"v":0.92},{"t":26.58,"v":0.973},{"t":27.51,"v":0.964},{"t":28.44,"v":0.964},{"t":29.36,"v":0.938},{"t":30.29,"v":1.0},{"t":31.22,"v":1.31},{"t":32.15,"v":1.766},{"t":33.06,"v":1.779},{"t":33.98,"v":1.46}]},
  "mark":{"type":"line","color":"#9900CC","strokeWidth":3,"point":{"filled":true,"size":190,"color":"#9900CC"}},
  "encoding":{"y":{"field":"v","type":"quantitative","scale":{"domain":[0.4,2.4],"range":[1369,993],"nice":false,"zero":false},
   "axis":{"orient":"right","offset":49,"values":[0.4,0.8,1.2,1.6,2.0,2.4],"tickSize":9,"labelExpr":"'' + datum.value","labelPadding":10,"title":["SO184-10043","Ba/Sr"],"titleAngle":-90,"titleBaseline":"top","titlePadding":-10,"titleLineHeight":34}}}},
 {"data":{"values":[{"t":-0.61,"v":1.593,"lab":"(d)"}]},
  "mark":{"type":"text","fontSize":38,"align":"center","baseline":"middle","color":"black"},
  "encoding":{"y":{"field":"v","type":"quantitative","scale":{"domain":[0.4,2.4],"range":[1369,993],"nice":false,"zero":false},
   "axis":{"orient":"right","offset":49,"values":[0.6,1.0,1.4,1.8,2.2],"tickSize":4.5,"domain":false,"labels":false,"title":null}},"text":{"field":"lab"}}}
],"resolve":{"axis":{"y":"independent"}}},
{"layer":[
 {"data":{"values":[{"t":0.2,"v":58.12},{"t":0.36,"v":54.84},{"t":0.7,"v":54.73},{"t":1.03,"v":54.12},{"t":1.31,"v":55.1},{"t":1.64,"v":53.45},{"t":1.95,"v":54.3},{"t":2.21,"v":53.98},{"t":2.45,"v":54.03},{"t":2.7,"v":52.65},{"t":2.93,"v":52.12},{"t":3.17,"v":51.98},{"t":3.41,"v":52.78},{"t":3.64,"v":54.03},{"t":3.85,"v":51.8},{"t":4.1,"v":53.45},{"t":4.31,"v":53.72},{"t":4.52,"v":54.03},{"t":4.78,"v":53.93},{"t":5.02,"v":55.45},{"t":5.21,"v":56.25},{"t":5.42,"v":57.18},{"t":5.66,"v":54.92},{"t":5.92,"v":55.45},{"t":6.16,"v":53.98},{"t":6.38,"v":56.25},{"t":6.62,"v":55.18},{"t":6.88,"v":55.72},{"t":7.09,"v":57.58},{"t":7.35,"v":56.92},{"t":7.59,"v":55.98},{"t":7.83,"v":58.65},{"t":8.06,"v":60.38},{"t":8.3,"v":62.78},{"t":8.49,"v":61.92},{"t":8.66,"v":57.32},{"t":8.83,"v":60.78},{"t":9.3,"v":61.32},{"t":9.73,"v":61.45},{"t":10.2,"v":61.18},{"t":10.66,"v":57.05},{"t":11.52,"v":57.85},{"t":12.01,"v":58.25},{"t":12.49,"v":55.0},{"t":12.94,"v":49.18},{"t":13.4,"v":43.26},{"t":14.08,"v":52.7},{"t":14.77,"v":50.38},{"t":15.48,"v":46.12},{"t":16.15,"v":43.4},{"t":16.84,"v":46.12},{"t":17.54,"v":43.0},{"t":18.24,"v":42.73},{"t":18.93,"v":45.1},{"t":19.63,"v":44.6},{"t":20.32,"v":43.64},{"t":21.02,"v":45.98},{"t":21.71,"v":46.65},{"t":22.23,"v":45.26},{"t":22.76,"v":43.8},{"t":23.29,"v":46.46},{"t":23.82,"v":45.93},{"t":24.74,"v":41.32},{"t":25.67,"v":38.65},{"t":26.58,"v":38.65},{"t":27.51,"v":38.25},{"t":28.44,"v":39.05},{"t":29.36,"v":38.25},{"t":30.29,"v":39.45},{"t":31.22,"v":43.58},{"t":32.15,"v":59.0},{"t":33.06,"v":51.18},{"t":33.98,"v":55.58}]},
  "mark":{"type":"line","color":"#00EE00","strokeWidth":3,"point":{"filled":true,"size":190,"color":"#00EE00"}},
  "encoding":{"y":{"field":"v","type":"quantitative","scale":{"domain":[35,65],"range":[1707.3,1332.3],"nice":false,"zero":false},
   "axis":{"orient":"left","offset":45.5,"values":[35,40,45,50,55,60,65],"tickSize":9,"labelExpr":"'' + datum.value","labelPadding":10,"title":["SO184-10043","CIA"],"titlePadding":14,"titleLineHeight":34}}}},
 {"data":{"values":[{"t":-0.58,"v":58.12,"lab":"(c)"}]},
  "mark":{"type":"text","fontSize":38,"align":"center","baseline":"middle","color":"black"},
  "encoding":{"y":{"field":"v","type":"quantitative","scale":{"domain":[35,65],"range":[1707.3,1332.3],"nice":false,"zero":false},
   "axis":{"orient":"left","offset":45.5,"values":[37.5,42.5,47.5,52.5,57.5,62.5],"tickSize":4.5,"domain":false,"labels":false,"title":null}},"text":{"field":"lab"}}}
],"resolve":{"axis":{"y":"independent"}}},
{"layer":[
 {"data":{"values":[{"t":0.2,"v":2.09},{"t":0.39,"v":2.03},{"t":0.7,"v":2.94},{"t":1.03,"v":3.35},{"t":1.31,"v":2.87},{"t":1.63,"v":3.56},{"t":1.95,"v":3.1},{"t":2.21,"v":3.1},{"t":2.45,"v":3.44},{"t":2.7,"v":4.12},{"t":2.93,"v":4.09},{"t":3.17,"v":4.09},{"t":3.41,"v":4.09},{"t":3.62,"v":3.6},{"t":3.85,"v":4.49},{"t":4.1,"v":3.96},{"t":4.31,"v":4.33},{"t":4.52,"v":3.9},{"t":4.78,"v":3.9},{"t":4.98,"v":3.64},{"t":5.21,"v":3.48},{"t":5.42,"v":3.07},{"t":5.66,"v":3.96},{"t":5.91,"v":3.8},{"t":6.16,"v":4.06},{"t":6.38,"v":3.26},{"t":6.64,"v":3.64},{"t":6.88,"v":3.44},{"t":7.09,"v":3.1},{"t":7.35,"v":3.37},{"t":7.59,"v":3.42},{"t":7.83,"v":2.99},{"t":8.06,"v":2.62},{"t":8.3,"v":2.09},{"t":8.49,"v":2.14},{"t":8.66,"v":2.89},{"t":8.83,"v":2.57},{"t":9.3,"v":2.32},{"t":9.73,"v":2.32},{"t":10.2,"v":2.41},{"t":10.66,"v":2.99},{"t":11.44,"v":2.67},{"t":11.54,"v":2.11},{"t":12.01,"v":2.35},{"t":12.47,"v":3.48},{"t":12.94,"v":4.99},{"t":13.4,"v":7.48},{"t":14.08,"v":3.92},{"t":14.77,"v":4.67},{"t":15.48,"v":5.91},{"t":16.15,"v":6.87},{"t":16.84,"v":6.04},{"t":17.54,"v":7.45},{"t":18.24,"v":7.5},{"t":18.93,"v":7.02},{"t":19.63,"v":6.97},{"t":20.32,"v":7.3},{"t":21.02,"v":6.25},{"t":21.71,"v":6.57},{"t":22.23,"v":6.52},{"t":22.76,"v":7.24},{"t":23.29,"v":6.92},{"t":23.82,"v":6.73},{"t":24.74,"v":8.34},{"t":25.67,"v":9.19},{"t":26.58,"v":9.35},{"t":27.51,"v":10.15},{"t":28.44,"v":9.59},{"t":29.36,"v":9.59},{"t":30.29,"v":9.54},{"t":31.22,"v":8.18},{"t":32.15,"v":2.67},{"t":33.06,"v":4.22},{"t":33.98,"v":3.85}]},
  "mark":{"type":"line","color":"#FF0000","strokeWidth":2.5,"point":{"filled":true,"size":190,"color":"#FF0000"}},
  "encoding":{"y":{"field":"v","type":"quantitative","scale":{"domain":[0,12],"range":[2035,1660.7],"nice":false,"zero":false},
   "axis":{"orient":"right","offset":49,"values":[0,3,6,9,12],"tickSize":9,"labelExpr":"'' + datum.value","labelPadding":10,"title":["SO184-10043","CaO/MgO"],"titleAngle":-90,"titleBaseline":"top","titlePadding":-4,"titleLineHeight":34}}}},
 {"data":{"values":[{"t":-0.61,"v":1.77,"lab":"(b)"}]},
  "mark":{"type":"text","fontSize":38,"align":"center","baseline":"middle","color":"black"},
  "encoding":{"y":{"field":"v","type":"quantitative","scale":{"domain":[0,12],"range":[2035,1660.7],"nice":false,"zero":false},
   "axis":{"orient":"right","offset":49,"values":[1.5,4.5,7.5,10.5],"tickSize":4.5,"domain":false,"labels":false,"title":null}},"text":{"field":"lab"}}}
],"resolve":{"axis":{"y":"independent"}}},
{"layer":[
 {"data":{"values":[{"t":0.2,"v":8.782},{"t":0.39,"v":8.951},{"t":0.7,"v":8.965},{"t":1.03,"v":8.933},{"t":1.31,"v":8.836},{"t":1.63,"v":8.973},{"t":1.95,"v":8.845},{"t":2.21,"v":8.777},{"t":2.45,"v":8.457},{"t":2.7,"v":8.738},{"t":2.93,"v":8.818},{"t":3.17,"v":8.196},{"t":3.41,"v":8.96},{"t":3.62,"v":8.747},{"t":3.85,"v":8.823},{"t":4.1,"v":8.937},{"t":4.31,"v":8.8},{"t":4.55,"v":8.622},{"t":4.78,"v":8.302},{"t":4.99,"v":8.489},{"t":5.21,"v":8.272},{"t":5.42,"v":8.578},{"t":5.66,"v":8.551},{"t":5.91,"v":8.628},{"t":6.16,"v":8.635},{"t":6.38,"v":8.125},{"t":6.62,"v":7.902},{"t":6.85,"v":8.528},{"t":7.09,"v":8.676},{"t":7.35,"v":7.995},{"t":7.59,"v":8.187},{"t":7.83,"v":8.507},{"t":8.06,"v":8.196},{"t":8.3,"v":8.498},{"t":8.49,"v":8.24},{"t":8.66,"v":8.258},{"t":8.83,"v":8.16},{"t":9.3,"v":8.525},{"t":9.73,"v":8.471},{"t":10.2,"v":8.276},{"t":10.66,"v":7.991},{"t":11.49,"v":8.525},{"t":11.56,"v":8.596},{"t":12.01,"v":8.368},{"t":12.47,"v":8.32},{"t":12.91,"v":7.689},{"t":13.4,"v":8.101},{"t":14.06,"v":7.911},{"t":14.75,"v":7.52},{"t":15.44,"v":7.876},{"t":16.15,"v":7.636},{"t":16.84,"v":8.219},{"t":17.54,"v":8.119},{"t":18.23,"v":8.013},{"t":18.93,"v":8.094},{"t":19.63,"v":8.199},{"t":20.32,"v":8.098},{"t":21.02,"v":8.32},{"t":21.71,"v":7.835},{"t":22.23,"v":7.828},{"t":22.76,"v":8.107},{"t":23.29,"v":8.267},{"t":23.81,"v":7.899},{"t":24.74,"v":7.876},{"t":25.67,"v":7.831},{"t":26.58,"v":8.333},{"t":27.51,"v":8.667},{"t":28.44,"v":8.679},{"t":29.36,"v":8.183},{"t":30.29,"v":8.622},{"t":31.22,"v":8.741},{"t":32.15,"v":9.031},{"t":33.06,"v":8.845},{"t":33.98,"v":8.658}]},
  "mark":{"type":"line","color":"#6B2B2B","strokeWidth":2.5,"point":{"filled":true,"size":190,"color":"#6B2B2B"}},
  "encoding":{"y":{"field":"v","type":"quantitative","scale":{"domain":[7.2,9.2],"range":[2401.7,2026.7],"nice":false,"zero":false},
   "axis":{"orient":"left","offset":45.5,"values":[7.2,7.6,8.0,8.4,8.8,9.2],"tickSize":9,"labelExpr":"'' + datum.value","labelPadding":10,"title":["SO184-10043","mean grain size of component I (µm)"],"titlePadding":20,"titleLineHeight":38}}}},
 {"data":{"values":[{"t":-0.57,"v":8.747,"lab":"(a)"}]},
  "mark":{"type":"text","fontSize":38,"align":"center","baseline":"middle","color":"black"},
  "encoding":{"y":{"field":"v","type":"quantitative","scale":{"domain":[7.2,9.2],"range":[2401.7,2026.7],"nice":false,"zero":false},
   "axis":{"orient":"left","offset":45.5,"values":[7.4,7.8,8.2,8.6,9.0],"tickSize":4.5,"domain":false,"labels":false,"title":null}},"text":{"field":"lab"}}}
],"resolve":{"axis":{"y":"independent"}}}
],
"resolve":{"scale":{"y":"independent"},"axis":{"y":"independent"}}
}
